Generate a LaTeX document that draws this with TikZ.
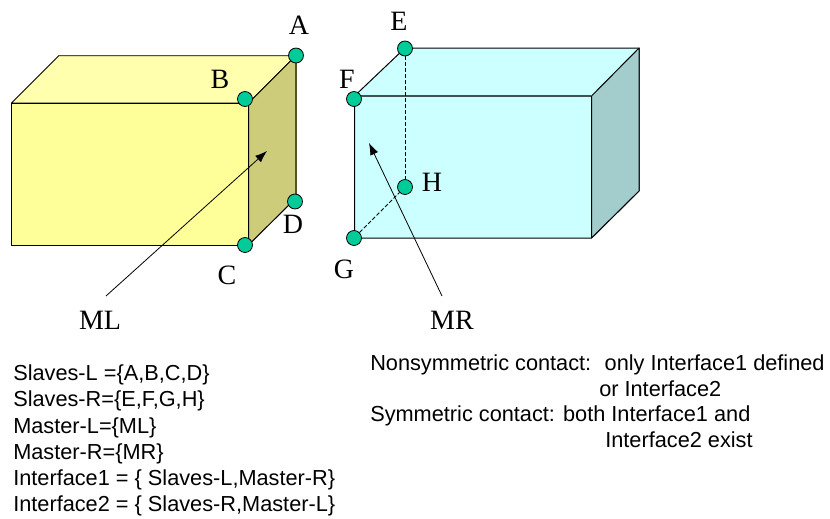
\documentclass[tikz,border=0pt]{standalone}
\usepackage{fontspec}
\setmainfont{Liberation Serif}
\newfontfamily\arialf{Liberation Sans}
\definecolor{yfront}{HTML}{FFFF99}
\definecolor{ytop}{HTML}{FFFFAD}
\definecolor{yside}{HTML}{CCCC7A}
\definecolor{cfront}{HTML}{CCFFFF}
\definecolor{cside}{HTML}{A3CCCC}
\definecolor{dotc}{HTML}{00CC99}
\usetikzlibrary{arrows.meta}
\tikzset{
 edge/.style={draw=black,line width=0.75pt,line join=round},
 dot/.style={circle,draw=black,fill=dotc,line width=0.6pt,minimum size=11.2pt,inner sep=0pt},
 lab/.style={font=\fontsize{21}{21}\selectfont,inner sep=0pt},
 txt/.style={font=\arialf\fontsize{16.3}{18}\selectfont,inner sep=0pt,anchor=base west},
 arr/.style={draw=black,line width=0.6pt,-{Latex[length=9pt,width=6.5pt]}},
 hid/.style={draw=black,line width=0.6pt,dash pattern=on 3pt off 1.5pt},
}
\begin{document}
\begin{tikzpicture}[x=0.75pt,y=-0.75pt]
\useasboundingbox (0,0) rectangle (830,518);
\fill[white] (0,0) rectangle (830,518);
% left box
\path[edge,fill=yfront] (11.5,103) rectangle (248.5,245);
\path[edge,fill=ytop] (11.5,103) -- (59,55.5) -- (296,55.5) -- (248.5,103) -- cycle;
\path[edge,fill=yside] (248.5,103) -- (296,55.5) -- (296,198) -- (248.5,245) -- cycle;
\draw[line width=1.1pt,draw=black!60!yside] (59,55.5) -- (296,55.5) -- (296,198);
\draw[edge] (11.5,103) -- (248.5,103) -- (248.5,245);
% right box
\path[edge,fill=cfront] (354.5,96) -- (405,48) -- (639,48) -- (639,191) -- (591.5,238) -- (354.5,238) -- cycle;
\path[edge,fill=cside] (591.5,96) -- (639,48) -- (639,191) -- (591.5,238) -- cycle;
\draw[line width=1.1pt,draw=black!60!cside] (354.5,96) -- (591.5,96);
\draw[edge] (591.5,96) -- (591.5,238);
\node[dot] (A) at (296,55.5) {};
\node[dot] (B) at (245,99) {};
\node[dot] (C) at (245,245) {};
\node[dot] (D) at (295,201.5) {};
\node[dot] (E) at (405,48.5) {};
\node[dot] (F) at (354,99) {};
\node[dot] (G) at (354,238) {};
\node[dot] (H) at (405,187) {};
\draw[hid] (E) -- (H);
\draw[hid] (G) -- (H);
\node[lab] at (299,25.5) {A};
\node[lab] at (220,79) {B};
\node[lab] at (227,275.5) {C};
\node[lab] at (293,224.5) {D};
\node[lab] at (399,21) {E};
\node[lab] at (347,79) {F};
\node[lab] at (344,269) {G};
\node[lab] at (432,182) {H};
\node[lab] (ML) at (100,320) {ML};
\node[lab] (MR) at (452,320) {MR};
\coordinate (mlt) at (267,151);
\coordinate (mrt) at (369,143);
\coordinate (mls) at (106,296);
\coordinate (mrs) at (442,296);
\draw[arr] (mls) -- (mlt);
\draw[arr] (mrs) -- (mrt);
\node[txt] (t1) at (13,380) {Slaves-L =\{A,B,C,D\}};
\node[txt] (t2) at (13,406.5) {Slaves-R=\{E,F,G,H\}};
\node[txt] (t3) at (13,433) {Master-L=\{ML\}};
\node[txt] (t4) at (13,459.5) {Master-R=\{MR\}};
\node[txt] (t5) at (13,485) {Interface1 = \{ Slaves-L,Master-R\}};
\node[txt] (t6) at (13,511) {Interface2 = \{ Slaves-R,Master-L\}};
\node[txt] (r1) at (370,370) {Nonsymmetric contact:\ \ \kern1pt only Interface1 defined};
\node[txt] (r2) at (599,396) {or Interface2};
\node[txt] (r3) at (370,421.5) {Symmetric contact: both Interface1 and};
\node[txt] (r4) at (605,447) {Interface2 exist};
\end{tikzpicture}
\end{document}
